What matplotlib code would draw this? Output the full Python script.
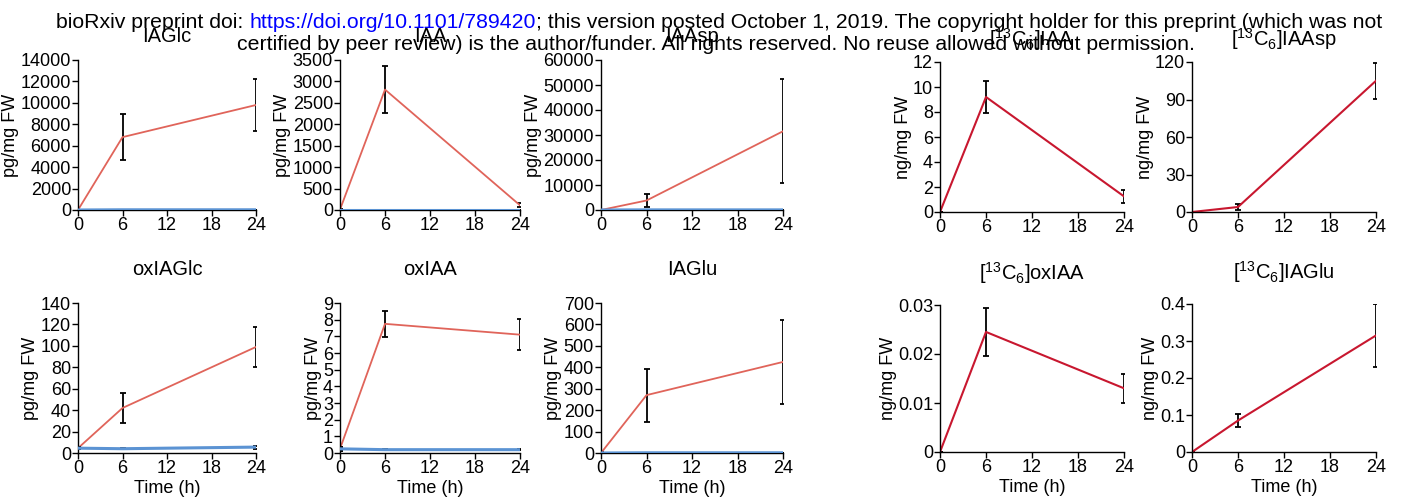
import numpy as np
import matplotlib.pyplot as plt

plt.rcParams['font.family'] = ['Liberation Sans', 'DejaVu Sans']
plt.rcParams['mathtext.fontset'] = 'custom'
plt.rcParams['mathtext.rm'] = 'Liberation Sans'
plt.rcParams['mathtext.it'] = 'Liberation Sans'

time = [0, 6, 24]

# left block: treated (red) and control (blue), pg/mg FW
iaglc_red = [0, 6800, 9800]
iaglc_red_err = [0, 2150, 2400]
iaglc_blue = [0, 20, 20]
iaglc_blue_err = [0, 5, 5]

iaa_red = [10, 2810, 110]
iaa_red_err = [10, 540, 50]
iaa_blue = [5, 5, 5]
iaa_blue_err = [3, 2, 2]

iaasp_red = [0, 3800, 31500]
iaasp_red_err = [200, 2700, 20800]
iaasp_blue = [0, 50, 50]
iaasp_blue_err = [0, 10, 10]

oxiaglc_red = [4.5, 42, 99]
oxiaglc_red_err = [0.8, 14.2, 18.3]
oxiaglc_blue = [4.5, 4.0, 5.5]
oxiaglc_blue_err = [0.8, 0.6, 1.4]

oxiaa_red = [0.25, 7.75, 7.1]
oxiaa_red_err = [0.1, 0.8, 0.92]
oxiaa_blue = [0.25, 0.2, 0.2]
oxiaa_blue_err = [0.1, 0.03, 0.03]

iaglu_red = [0, 270, 425]
iaglu_red_err = [3, 123, 195]
iaglu_blue = [0, 1, 1]
iaglu_blue_err = [0, 0.5, 0.5]

# right block: [13C6] labelled, ng/mg FW
c13_iaa = [0, 9.2, 1.25]
c13_iaa_err = [0, 1.3, 0.55]
c13_iaasp = [0, 4, 105]
c13_iaasp_err = [0, 2.5, 14.5]
c13_oxiaa = [0, 0.0245, 0.013]
c13_oxiaa_err = [0, 0.0049, 0.003]
c13_iaglu = [0, 0.085, 0.315]
c13_iaglu_err = [0, 0.017, 0.086]

RED = '#e0645a'
BLUE = '#5b93d3'
DARKRED = '#c8172f'

W, H = 1403, 497
fig = plt.figure(figsize=(W / 100, H / 100), dpi=100)


def make_axes(x0, x1, ytop, ybot):
    return fig.add_axes([x0 / W, 1 - ybot / H, (x1 - x0) / W, (ybot - ytop) / H])


def style(ax, title, ymax, yticks, ylabel, xlabel, pad):
    ax.set_xlim(0, 24)
    ax.set_ylim(0, ymax)
    ax.set_xticks([0, 6, 12, 18, 24])
    ax.set_yticks(yticks)
    ax.spines['top'].set_visible(False)
    ax.spines['right'].set_visible(False)
    ax.spines['left'].set_linewidth(1.0)
    ax.spines['bottom'].set_linewidth(1.0)
    ax.tick_params(labelsize=13, length=4, width=1, pad=1)
    ax.set_title(title, fontsize=14.5, pad=pad)
    ax.set_ylabel(ylabel, fontsize=13, labelpad=1)
    if xlabel:
        ax.set_xlabel('Time (h)', fontsize=13, labelpad=2)


def left_panel(ax, red, red_err, blue, blue_err):
    ax.errorbar(time, blue, yerr=blue_err, color=BLUE, lw=2.2, ecolor='black',
                elinewidth=1.3, capsize=2.5, capthick=1.3, zorder=3)
    ax.errorbar(time, red, yerr=red_err, color=RED, lw=1.3, ecolor='black',
                elinewidth=1.3, capsize=2.5, capthick=1.3, zorder=2)


def right_panel(ax, vals, err):
    ax.errorbar(time, vals, yerr=err, color=DARKRED, lw=1.5, ecolor='black',
                elinewidth=1.3, capsize=2.5, capthick=1.3)


lefts = [(78, 256), (340, 520), (601, 783)]
rights = [(940, 1124), (1192, 1376)]

# top row
ax = make_axes(*lefts[0], 60, 210)
left_panel(ax, iaglc_red, iaglc_red_err, iaglc_blue, iaglc_blue_err)
style(ax, 'IAGlc', 14000, range(0, 14001, 2000), 'pg/mg FW', False, 13)

ax = make_axes(*lefts[1], 60, 210)
left_panel(ax, iaa_red, iaa_red_err, iaa_blue, iaa_blue_err)
style(ax, 'IAA', 3500, range(0, 3501, 500), 'pg/mg FW', False, 13)

ax = make_axes(*lefts[2], 60, 210)
left_panel(ax, iaasp_red, iaasp_red_err, iaasp_blue, iaasp_blue_err)
style(ax, 'IAAsp', 60000, range(0, 60001, 10000), 'pg/mg FW', False, 13)

ax = make_axes(*rights[0], 62, 212)
right_panel(ax, c13_iaa, c13_iaa_err)
style(ax, r'[$^{13}$C$_6$]IAA', 12, range(0, 13, 2), 'ng/mg FW', False, 12)

ax = make_axes(*rights[1], 62, 212)
right_panel(ax, c13_iaasp, c13_iaasp_err)
style(ax, r'[$^{13}$C$_6$]IAAsp', 120, range(0, 121, 30), 'ng/mg FW', False, 12)

# bottom row
ax = make_axes(*lefts[0], 303, 453)
left_panel(ax, oxiaglc_red, oxiaglc_red_err, oxiaglc_blue, oxiaglc_blue_err)
style(ax, 'oxIAGlc', 140, range(0, 141, 20), 'pg/mg FW', True, 20)

ax = make_axes(*lefts[1], 303, 453)
left_panel(ax, oxiaa_red, oxiaa_red_err, oxiaa_blue, oxiaa_blue_err)
style(ax, 'oxIAA', 9, range(0, 10), 'pg/mg FW', True, 20)

ax = make_axes(*lefts[2], 303, 453)
left_panel(ax, iaglu_red, iaglu_red_err, iaglu_blue, iaglu_blue_err)
style(ax, 'IAGlu', 700, range(0, 701, 100), 'pg/mg FW', True, 20)

ax = make_axes(*rights[0], 305, 452)
right_panel(ax, c13_oxiaa, c13_oxiaa_err)
style(ax, r'[$^{13}$C$_6$]oxIAA', 0.03, [0, 0.01, 0.02, 0.03], 'ng/mg FW', True, 18)
ax.set_yticklabels(['0', '0.01', '0.02', '0.03'])

ax = make_axes(*rights[1], 304, 452)
right_panel(ax, c13_iaglu, c13_iaglu_err)
style(ax, r'[$^{13}$C$_6$]IAGlu', 0.4, [0, 0.1, 0.2, 0.3, 0.4], 'ng/mg FW', True, 18)
ax.set_yticklabels(['0', '0.1', '0.2', '0.3', '0.4'])

# bioRxiv header
hdr = dict(fontsize=15.3, family='Liberation Sans', va='center')
renderer = fig.canvas.get_renderer()
parts = [('bioRxiv preprint doi: ', 'black'),
         ('https://doi.org/10.1101/789420', 'blue'),
         ('; this version posted October 1, 2019. The copyright holder for this preprint (which was not', 'black')]
texts = [fig.text(0, 1 - 22 / H, s, color=c, **hdr) for s, c in parts]
widths = [t.get_window_extent(renderer).width for t in texts]
x = (719 - sum(widths) / 2) / W
for t, w in zip(texts, widths):
    t.set_x(x)
    x += w / W
fig.text(716 / W, 1 - 44 / H,
         'certified by peer review) is the author/funder. All rights reserved. No reuse allowed without permission.',
         ha='center', **hdr)

fig.savefig('out.png', dpi=100)
